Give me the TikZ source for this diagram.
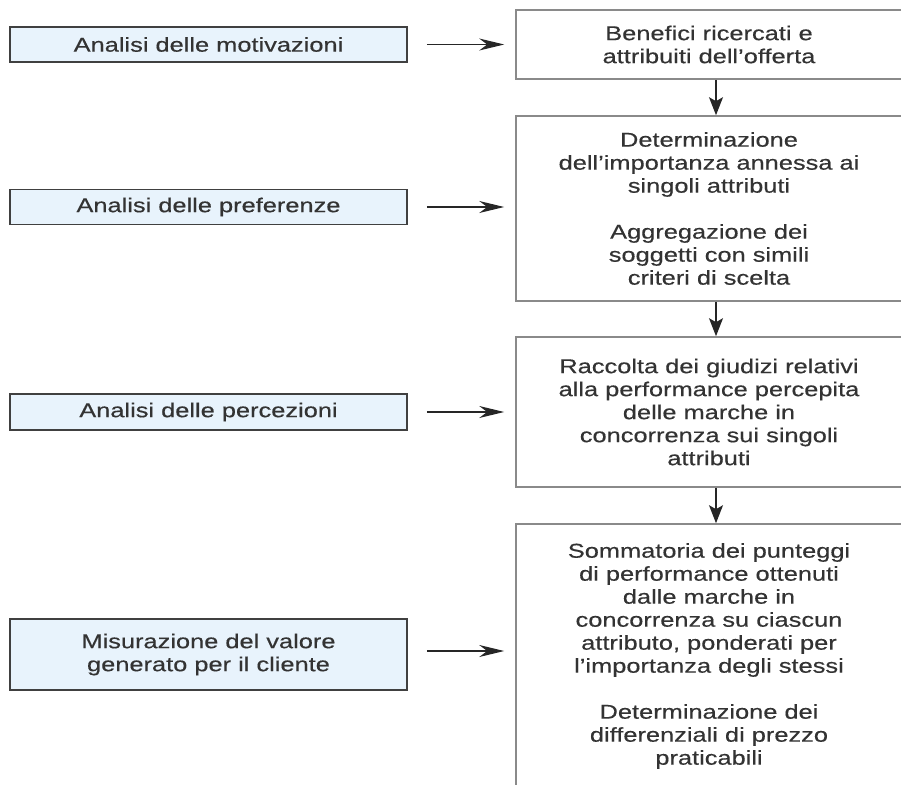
\documentclass[tikz,border=0pt]{standalone}
\usepackage{fontspec}
\setmainfont[FakeStretch=1.27, FakeBold=0.4]{Liberation Sans}
\usepackage{tikz}
\usetikzlibrary{arrows.meta, positioning}

\definecolor{boxblue}{HTML}{E8F3FC}
\definecolor{txtgray}{HTML}{333333}
\definecolor{linegray}{HTML}{8A8A8A}

\begin{document}
\begin{tikzpicture}[
    x=1pt, y=-1pt,
    analisi/.style={draw=black!75, line width=1.5pt, fill=boxblue, minimum width=397pt, minimum height=35pt, inner sep=2pt, align=center, text=txtgray, font=\fontsize{20}{23}\selectfont},
    fase/.style={draw=linegray, line width=1.6pt, minimum width=386pt, inner sep=2pt, align=center, text=txtgray, font=\fontsize{20}{23}\selectfont},
    arr/.style={-{Stealth[length=25pt, width=12pt, inset=8pt]}, line width=1.3pt, black!85, shorten <=19pt, shorten >=11pt},
    darr/.style={-{Stealth[length=18pt, width=14pt, inset=4pt]}, line width=1.3pt, black!85}
]
    \useasboundingbox (0,0) rectangle (901,784);

    % colonna di destra
    \node[fase, minimum height=69pt] (b1) at (709,44.5) {Benefici ricercati e\\attribuiti dell'offerta};
    \node[fase, minimum height=185pt] (b2) at (709,208.5) {Determinazione\\dell'importanza annessa ai\\singoli attributi\\[23pt]Aggregazione dei\\soggetti con simili\\criteri di scelta};
    \node[fase, minimum height=150pt] (b3) at (709,412) {Raccolta dei giudizi relativi\\alla performance percepita\\delle marche in\\concorrenza sui singoli\\attributi};
    \node[fase, minimum height=264pt] (b4) at (709,656) {Sommatoria dei punteggi\\di performance ottenuti\\dalle marche in\\concorrenza su ciascun\\attributo, ponderati per\\l'importanza degli stessi\\[23pt]Determinazione dei\\differenziali di prezzo\\praticabili};

    % colonna di sinistra
    \node[analisi] (a1) at (208.5,44.5) {Analisi delle motivazioni};
    \node[analisi] (a2) at (208.5,207) {Analisi delle preferenze};
    \node[analisi, minimum height=36pt] (a3) at (208.5,412) {Analisi delle percezioni};
    \node[analisi, minimum height=71pt] (a4) at (208.5,654.5) {Misurazione del valore\\generato per il cliente};

    \draw[arr] (a1.east) -- (a1.east -| b1.west);
    \draw[arr] (a2.east) -- (a2.east -| b2.west);
    \draw[arr] (a3.east) -- (a3.east -| b3.west);
    \draw[arr] ([yshift=3.5pt]a4.east) -- ([yshift=3.5pt]a4.east -| b4.west);

    \draw[darr] ([xshift=7pt]b1.south) -- ([xshift=7pt]b2.north);
    \draw[darr] ([xshift=7pt]b2.south) -- ([xshift=7pt]b3.north);
    \draw[darr] ([xshift=7pt]b3.south) -- ([xshift=7pt]b4.north);
\end{tikzpicture}
\end{document}
